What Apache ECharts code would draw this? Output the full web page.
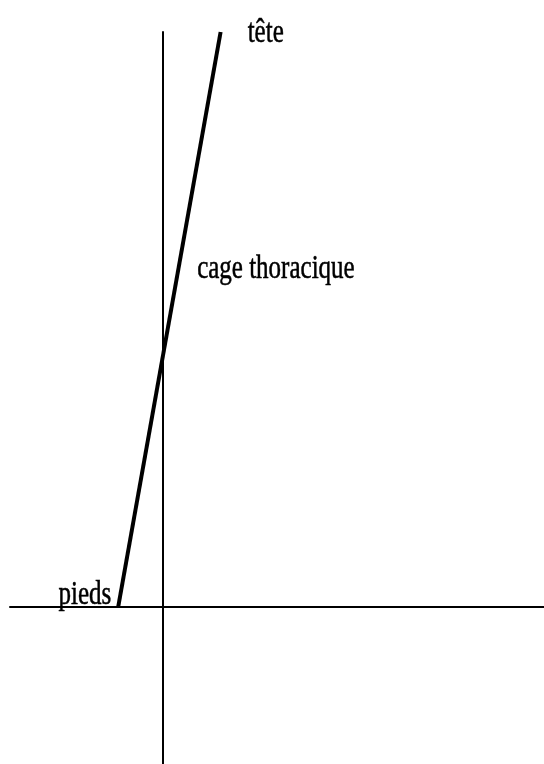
<!DOCTYPE html>
<html>
<head>
<meta charset="utf-8">
<script src="https://cdn.jsdelivr.net/npm/echarts@6/dist/echarts.min.js"></script>
<style>
  html, body { margin: 0; padding: 0; background: #fff; }
  #chart { width: 544px; height: 764px; }
</style>
</head>
<body>
<div id="chart"></div>
<script>
// droite du corps : des pieds a la tete (unites arbitraires)
var bodyX = [-0.39, 0.5];
var bodyY = [0, 5];
// etiquettes et leurs points d'ancrage
var labelTexts = ['pieds', 'cage thoracique', 't\u00eate'];
var labelX = [-0.45, 0.296, 0.735];
var labelY = [0.10, 2.94, 4.99];
var labelAlign = ['right', 'left', 'left'];

var chart = echarts.init(document.getElementById('chart'));

var axisStyle = { show: true, onZero: true, lineStyle: { color: '#000', width: 2 } };

chart.setOption({
  backgroundColor: '#fff',
  animation: false,
  grid: { left: 10, right: 0, top: 32, bottom: 0, containLabel: false },
  xAxis: {
    type: 'value', min: -1.33, max: 3.31,
    axisLine: axisStyle,
    axisTick: { show: false }, axisLabel: { show: false }, splitLine: { show: false }
  },
  yAxis: {
    type: 'value', min: -1.365, max: 5,
    axisLine: axisStyle,
    axisTick: { show: false }, axisLabel: { show: false }, splitLine: { show: false }
  },
  series: [{
    type: 'line',
    data: bodyX.map(function (x, i) { return [x, bodyY[i]]; }),
    showSymbol: false,
    lineStyle: { color: '#000', width: 4 },
    z: 5
  }]
});

// textes poses en pixels a partir des coordonnees du repere
var graphics = labelTexts.map(function (t, i) {
  var p = chart.convertToPixel({ gridIndex: 0 }, [labelX[i], labelY[i]]);
  return {
    type: 'text',
    x: p[0], y: p[1],
    scaleY: 1.34,
    style: {
      text: t,
      fill: '#000',
      stroke: '#000', lineWidth: 0.4,
      font: '25px "Liberation Serif", serif',
      align: labelAlign[i], textAlign: labelAlign[i],
      verticalAlign: 'middle', textVerticalAlign: 'middle'
    }
  };
});
chart.setOption({ graphic: graphics });
</script>
</body>
</html>
